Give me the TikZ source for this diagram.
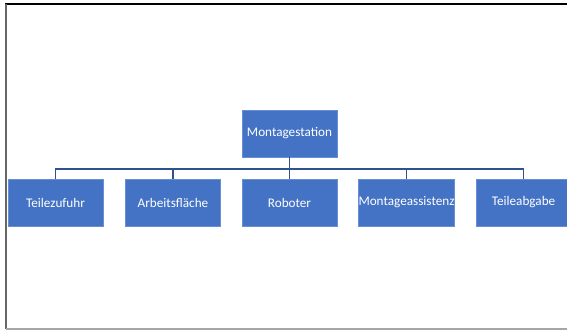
\documentclass[tikz,border=0pt]{standalone}
\usepackage{fontspec}
\setmainfont{Carlito}
\definecolor{boxblue}{HTML}{4472C4}
\definecolor{boxedge}{HTML}{6A8ED3}
\definecolor{linkblue}{HTML}{2F528F}
\begin{document}
\begin{tikzpicture}[x=1pt,y=1pt,
  orgbox/.style={draw=boxedge, line width=0.6pt, fill=boxblue, text=white,
    minimum width=95pt, minimum height=47pt, inner sep=0pt, font=\fontsize{13.2}{15}\selectfont},
  link/.style={draw=linkblue, line width=1.4pt}]
\useasboundingbox (0,0) rectangle (567,331);
\clip (0,0) rectangle (567,331);
\fill[white] (0,0) rectangle (567,331);
% frame
\draw[black, line width=1.2pt] (5,327) -- (567,327);
\draw[gray!80!black, line width=1.4pt] (6,327) -- (6,2);
\draw[gray!70, line width=1.4pt] (6,2) -- (567,2);
% nodes
\node[orgbox] (top) at (289.5,197.5) {Montagestation};
\node[orgbox] (c1) at (55.5,128.5) {Teilezufuhr};
\node[orgbox] (c2) at (173,128.5) {Arbeitsfläche};
\node[orgbox] (c3) at (289.5,128.5) {Roboter};
\node[orgbox] (c4) at (406.5,128.5) {Montageassistenz};
\node[orgbox] (c5) at (523.5,128.5) {Teileabgabe};
\coordinate (bus) at (289.5,162);
\draw[link] (top.south) -- (c3.north);
\draw[link] (c1.north) |- (bus) -| (c5.north);
\draw[link] (c2.north) -- (c2.north |- bus);
\draw[link] (c4.north) -- (c4.north |- bus);
\end{tikzpicture}
\end{document}
